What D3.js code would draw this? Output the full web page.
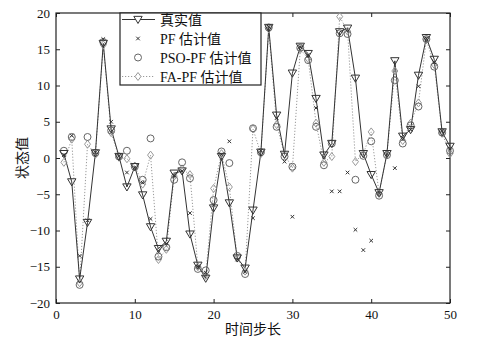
<!DOCTYPE html>
<html>
<head>
<meta charset="utf-8">
<script src="https://cdn.jsdelivr.net/npm/d3@7"></script>
<style>
  html, body { margin: 0; padding: 0; background: #fff; }
  svg { display: block; }
  text { font-family: "Liberation Serif", "Times New Roman", serif; fill: #111; }
  .cjk { font-family: "Noto Sans CJK SC", sans-serif; }
</style>
</head>
<body>
<svg id="chart" width="481" height="342"></svg>
<script>
// time steps 1..50
const steps = d3.range(1, 51);

const trueValues = [
  0.6, -3.3, -16.7, -8.9, 0.7, 15.8, 4.0, 0.2, -4.0, -1.2,
  -5.1, -9.5, -12.5, -11.5, -2.1, -1.8, -10.5, -14.8, -16.6, -6.9,
  0.2, -6.2, -13.8, -15.2, -7.2, 0.8, 18.0, 5.9, 0.5, 11.7,
  15.4, 14.4, 8.2, 0.4, 2.0, 17.4, 17.9, 11.0, 0.6, -2.3,
  -4.8, 0.6, 13.4, 3.0, 3.9, 11.4, 16.6, 13.6, 3.6, 1.6
];
const pfValues = [
  0.4, 3.1, -13.5, -8.6, 0.8, 16.4, 5.0, 0.3, -2.0, -1.3,
  -3.4, -8.4, -12.8, -11.8, -2.4, -1.8, -7.6, -15.0, -15.8, -6.5,
  0.5, 2.3, -14.0, -15.7, -8.3, 1.0, 18.1, 5.5, -0.5, -8.1,
  15.3, 14.2, 6.9, 0.2, -4.6, -4.6, -2.0, -9.9, -12.7, -11.4,
  -4.9, 0.5, -1.4, 2.8, 3.9, 9.9, 16.5, 13.2, 3.7, 1.3
];
const psoValues = [
  1.0, 2.9, -17.5, 2.9, 0.7, 16.0, 3.8, 0.2, 1.0, -1.2,
  -3.0, 2.7, -13.6, -12.3, -3.0, -0.6, -2.8, -15.3, -15.5, -5.8,
  0.9, -0.7, -13.5, -16.0, 4.1, 0.8, 18.0, 4.3, 0.2, -1.2,
  15.2, 13.5, 4.3, -1.0, 2.0, 17.2, 17.1, -3.0, 0.3, 2.3,
  -5.2, 0.4, 10.7, 2.0, 4.5, 7.1, 16.4, 12.6, 3.5, 1.0
];
const faValues = [
  -0.6, 2.6, -17.2, 1.9, 0.5, 15.6, 3.5, 0.1, -0.1, -1.1,
  -3.6, 0.4, -14.0, -12.6, -2.5, -1.5, -2.3, -15.0, -16.2, -4.2,
  0.6, -4.0, -13.8, -15.6, 4.0, 0.6, 17.8, 4.6, 0.5, -1.4,
  15.0, 13.7, 4.8, -0.6, 0.2, 19.5, 17.5, -0.5, 0.6, 3.6,
  -4.9, 0.6, 12.0, 2.4, 4.8, 7.6, 16.3, 12.9, 3.4, 0.6
];

const xTicks = [0, 10, 20, 30, 40, 50];
const yTicks = [-20, -15, -10, -5, 0, 5, 10, 15, 20];
const legendLabels = ["真实值", "PF 估计值", "PSO-PF 估计值", "FA-PF 估计值"];

const svg = d3.select("#chart");
const pL = 56, pR = 450, pT = 13, pB = 303;

const x = d3.scaleLinear().domain([0, 50]).range([pL, pR]);
const y = d3.scaleLinear().domain([-20, 20]).range([pB, pT]);

const fmt = d => d < 0 ? "\u2212" + Math.abs(d) : String(d);

// axes with inward ticks on all four sides
const tickLen = 4;
svg.append("g").attr("transform", `translate(0,${pB})`)
  .call(d3.axisBottom(x).tickValues(xTicks).tickSizeInner(-tickLen).tickSizeOuter(0).tickPadding(7).tickFormat(fmt))
  .call(g => g.select(".domain").remove())
  .call(g => g.selectAll("text").attr("font-size", 13).attr("fill", "#111"));
svg.append("g").attr("transform", `translate(0,${pT})`)
  .call(d3.axisTop(x).tickValues(xTicks).tickSizeInner(-tickLen).tickSizeOuter(0).tickFormat(""))
  .call(g => g.select(".domain").remove());
svg.append("g").attr("transform", `translate(${pL},0)`)
  .call(d3.axisLeft(y).tickValues(yTicks).tickSizeInner(-tickLen).tickSizeOuter(0).tickPadding(6).tickFormat(fmt))
  .call(g => g.select(".domain").remove())
  .call(g => g.selectAll("text").attr("font-size", 13).attr("fill", "#111"));
svg.append("g").attr("transform", `translate(${pR},0)`)
  .call(d3.axisRight(y).tickValues(yTicks).tickSizeInner(-tickLen).tickSizeOuter(0).tickFormat(""))
  .call(g => g.select(".domain").remove());
svg.selectAll(".tick line").attr("stroke", "#222");

// frame
svg.append("rect").attr("x", pL).attr("y", pT)
  .attr("width", pR - pL).attr("height", pB - pT)
  .attr("fill", "none").attr("stroke", "#222").attr("stroke-width", 1.2);

// axis titles
svg.append("text").attr("class", "cjk").attr("x", (pL + pR) / 2).attr("y", 334)
  .attr("text-anchor", "middle").attr("font-size", 14).text("时间步长");
svg.append("text").attr("class", "cjk")
  .attr("transform", `translate(27,${(pT + pB) / 2}) rotate(-90)`)
  .attr("text-anchor", "middle").attr("font-size", 14).text("状态值");

// marker shapes
const triPath = (cx, cy, s) => `M${cx - s},${cy - s * 0.75}L${cx + s},${cy - s * 0.75}L${cx},${cy + s * 0.95}Z`;
const diaPath = (cx, cy, s) => `M${cx},${cy - s}L${cx + s * 0.75},${cy}L${cx},${cy + s}L${cx - s * 0.75},${cy}Z`;
const crossPath = (cx, cy, s) => `M${cx - s},${cy - s}L${cx + s},${cy + s}M${cx - s},${cy + s}L${cx + s},${cy - s}`;

const plot = svg.append("g");
const line = vals => d3.line().x((d, i) => x(steps[i])).y(d => y(d))(vals);

// FA-PF: dotted grey line with diamonds
plot.append("path").attr("d", line(faValues)).attr("fill", "none")
  .attr("stroke", "#9a9a9a").attr("stroke-width", 1).attr("stroke-dasharray", "1.2,1.8");
// true state: solid line
plot.append("path").attr("d", line(trueValues)).attr("fill", "none")
  .attr("stroke", "#333").attr("stroke-width", 1);

plot.selectAll(".fa").data(faValues).join("path")
  .attr("d", (d, i) => diaPath(x(steps[i]), y(d), 4))
  .attr("fill", "none").attr("stroke", "#999").attr("stroke-width", 1);
plot.selectAll(".pso").data(psoValues).join("circle")
  .attr("cx", (d, i) => x(steps[i])).attr("cy", d => y(d)).attr("r", 3.5)
  .attr("fill", "none").attr("stroke", "#666").attr("stroke-width", 1);
plot.selectAll(".tru").data(trueValues).join("path")
  .attr("d", (d, i) => triPath(x(steps[i]), y(d), 4.2))
  .attr("fill", "none").attr("stroke", "#333").attr("stroke-width", 1);
plot.selectAll(".pf").data(pfValues).join("path")
  .attr("d", (d, i) => crossPath(x(steps[i]), y(d), 1.8))
  .attr("fill", "none").attr("stroke", "#333").attr("stroke-width", 1);

// legend
const lg = svg.append("g");
const lx = 120, ly = pT, lw = 141, lh = 72;
lg.append("rect").attr("x", lx).attr("y", ly).attr("width", lw).attr("height", lh)
  .attr("fill", "#fff").attr("stroke", "#222").attr("stroke-width", 1.2);
const rowY = i => ly + 6.5 + i * 19;
const sx0 = lx + 2, sx1 = lx + 35, smid = lx + 18;

lg.append("line").attr("x1", sx0).attr("x2", sx1).attr("y1", rowY(0)).attr("y2", rowY(0))
  .attr("stroke", "#333").attr("stroke-width", 1);
lg.append("path").attr("d", triPath(smid, rowY(0), 4.2)).attr("fill", "#fff").attr("stroke", "#333");
lg.append("path").attr("d", crossPath(smid, rowY(1), 1.8)).attr("fill", "none").attr("stroke", "#333");
lg.append("circle").attr("cx", smid).attr("cy", rowY(2)).attr("r", 3.5).attr("fill", "none").attr("stroke", "#666");
lg.append("line").attr("x1", sx0).attr("x2", sx1).attr("y1", rowY(3)).attr("y2", rowY(3))
  .attr("stroke", "#9a9a9a").attr("stroke-dasharray", "1.2,1.8");
lg.append("path").attr("d", diaPath(smid, rowY(3), 4)).attr("fill", "#fff").attr("stroke", "#999");

legendLabels.forEach((t, i) => {
  const txt = lg.append("text").attr("x", lx + 40).attr("y", rowY(i) + 5).attr("font-size", 14);
  const m = t.match(/^([A-Za-z\-]+ )?(.*)$/);
  if (m[1]) txt.append("tspan").text(m[1]);
  txt.append("tspan").attr("class", "cjk").text(m[2]);
});
</script>
</body>
</html>
